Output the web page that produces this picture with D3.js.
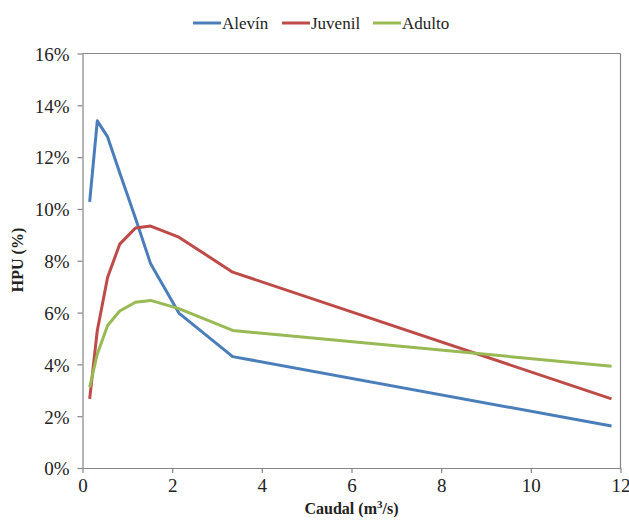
<!DOCTYPE html>
<html>
<head>
<meta charset="utf-8">
<script src="https://cdn.jsdelivr.net/npm/d3@7"></script>
<style>
body { margin: 0; background: #fff; }
svg, svg text { font-family: 'Liberation Serif', 'Times New Roman', Times, 'Tinos', 'DejaVu Serif', serif !important; }
</style>
</head>
<body>
<div id="chart"></div>
<script>
var w = 629,
	h = 520,
	margin = { top: 53.5, right: 8.5, bottom: 52, left: 82.5 };

// flow (m3/s)
var caudal = [0.16, 0.33, 0.56, 0.83, 1.18, 1.52, 2.15, 3.35, 11.8];
// HPU (%)
var alevin = [10.27, 13.4, 12.78, 11.4, 9.65, 7.88, 5.98, 4.3, 1.62];
var juvenil = [2.67, 5.31, 7.36, 8.64, 9.26, 9.34, 8.91, 7.56, 2.67];
var adulto = [3.11, 4.4, 5.5, 6.06, 6.4, 6.47, 6.15, 5.31, 3.93];

var seriesNames = ['Alevín', 'Juvenil', 'Adulto'];
var seriesColors = ['#4a7ebb', '#be4b48', '#98b954'];
var xTicks = [0, 2, 4, 6, 8, 10, 12];
var yTicks = [0, 2, 4, 6, 8, 10, 12, 14, 16];

var series = [alevin, juvenil, adulto].map(function(vals, i){
	return {
		name: seriesNames[i],
		color: seriesColors[i],
		values: vals.map(function(v, j){ return { x: caudal[j], y: v }; })
	};
});

var iw = w - margin.left - margin.right,
	ih = h - margin.top - margin.bottom;

var svg = d3.select('#chart').append('svg')
	.attr('width', w)
	.attr('height', h);

var g = svg.append('g')
	.attr('transform', 'translate(' + margin.left + ',' + margin.top + ')');

var x = d3.scaleLinear().domain([0, 12]).range([0, iw]);
var y = d3.scaleLinear().domain([0, 16]).range([ih, 0]);

var axisColor = '#868686';

// frame top + right
g.append('line')
	.attr('x1', 0).attr('x2', iw)
	.attr('y1', 0).attr('y2', 0)
	.attr('stroke', axisColor).attr('stroke-width', 1.2);
g.append('line')
	.attr('x1', iw).attr('x2', iw)
	.attr('y1', 0).attr('y2', ih)
	.attr('stroke', axisColor).attr('stroke-width', 1.2);

var xAxis = g.append('g')
	.attr('transform', 'translate(0,' + ih + ')')
	.call(d3.axisBottom(x).tickValues(xTicks).tickSize(5).tickSizeOuter(0).tickPadding(6));

var yAxis = g.append('g')
	.call(d3.axisLeft(y).tickValues(yTicks).tickSize(5).tickSizeOuter(0).tickPadding(8)
		.tickFormat(function(d){ return d + '%'; }));

[xAxis, yAxis].forEach(function(a){
	a.attr('font-family', null);
	a.selectAll('path, line').attr('stroke', axisColor).attr('stroke-width', 1.2);
	a.selectAll('text')
		.attr('fill', '#222')
		.style('font-size', '19px');
});
yAxis.selectAll('text').attr('dy', '0.36em');

var line = d3.line()
	.x(function(d){ return x(d.x); })
	.y(function(d){ return y(d.y); });

g.selectAll('.series')
	.data(series)
	.enter().append('path')
		.attr('class', 'series')
		.attr('d', function(d){ return line(d.values); })
		.attr('fill', 'none')
		.attr('stroke', function(d){ return d.color; })
		.attr('stroke-width', 3)
		.attr('stroke-linejoin', 'round');

// axis titles
svg.append('text')
	.attr('x', margin.left + iw / 2)
	.attr('y', 514)
	.attr('text-anchor', 'middle')
	.attr('font-weight', 'bold')
	.attr('font-size', '16px')
	.attr('fill', '#222')
	.html('Caudal (m<tspan baseline-shift="super" font-size="11px">3</tspan>/s)');

svg.append('text')
	.attr('transform', 'translate(23,260) rotate(-90)')
	.attr('text-anchor', 'middle')
	.attr('font-weight', 'bold')
	.attr('font-size', '16px')
	.attr('fill', '#222')
	.text('HPU (%)');

// legend
var legendX = [193, 282, 373];
var legend = svg.selectAll('.legend')
	.data(series)
	.enter().append('g')
		.attr('class', 'legend')
		.attr('transform', function(d, i){ return 'translate(' + legendX[i] + ',23)'; });
legend.append('line')
	.attr('x1', 0).attr('x2', 28)
	.attr('y1', 0).attr('y2', 0)
	.attr('stroke', function(d){ return d.color; })
	.attr('stroke-width', 3);
legend.append('text')
	.attr('x', 29)
	.attr('y', 0)
	.attr('dy', '0.35em')
	.attr('font-size', '17px')
	.attr('fill', '#222')
	.text(function(d){ return d.name; });
</script>
</body>
</html>
